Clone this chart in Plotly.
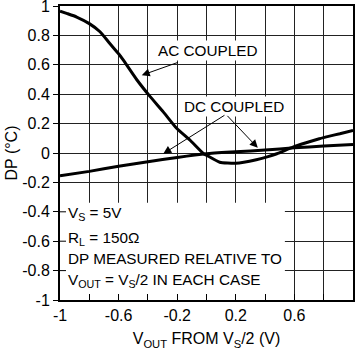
import plotly.graph_objects as go

# ---- data ----
ac_x = [-1.0, -0.95, -0.886, -0.8, -0.727, -0.66, -0.6, -0.57, -0.477, -0.386,
        -0.295, -0.204, -0.11, -0.02, 0.0, 0.09, 0.2, 0.34, 0.42, 0.48, 0.59, 0.68,
        0.77, 0.84, 0.91, 1.0]
ac_y = [0.965, 0.948, 0.925, 0.88, 0.825, 0.745, 0.675, 0.635, 0.5, 0.385,
        0.28, 0.168, 0.085, -0.005, -0.015, -0.063, -0.07, -0.046, -0.025, -0.005,
        0.04, 0.07, 0.097, 0.115, 0.131, 0.154]
dc_x = [-1.0, -0.8, -0.6, -0.4, -0.2, 0.0, 0.2, 0.4, 0.6, 0.8, 1.0]
dc_y = [-0.155, -0.125, -0.09, -0.06, -0.03, -0.005, 0.008, 0.02, 0.035, 0.047, 0.058]

x_ticks = [-1.0, -0.6, -0.2, 0.2, 0.6, 1.0]
x_labels = ["-1", "-0.6", "-0.2", "0.2", "0.6", "1"]
y_ticks = [1.0, 0.8, 0.6, 0.4, 0.2, 0.0, -0.2, -0.4, -0.6, -0.8, -1.0]
y_labels = ["1", "0.8", "0.6", "0.4", "0.2", "0", "-0.2", "-0.4", "-0.6", "-0.8", "-1"]

note_lines = ["V<sub>S</sub> = 5V", "R<sub>L</sub> = 150Ω", "DP MEASURED RELATIVE TO",
              "V<sub>OUT</sub> = V<sub>S</sub>/2 IN EACH CASE"]
note_y = [-0.41, -0.58, -0.72, -0.87]
box_x1, box_y1 = 0.535, -0.338

FONT = "Liberation Sans, Arial, sans-serif"

fig = go.Figure()
fig.add_trace(go.Scatter(x=ac_x, y=ac_y, mode="lines",
                         line=dict(color="black", width=3, shape="spline", smoothing=0.5),
                         showlegend=False, hoverinfo="skip"))
fig.add_trace(go.Scatter(x=dc_x, y=dc_y, mode="lines",
                         line=dict(color="black", width=3, shape="spline", smoothing=0.5),
                         showlegend=False, hoverinfo="skip"))

# white note box hiding the grid
fig.add_shape(type="rect", xref="x", yref="y", x0=-1, x1=box_x1, y0=-1, y1=box_y1,
              fillcolor="white", line=dict(width=0), layer="between")
# inside ticks on the left axis inside the box
for v in y_ticks:
    if -1 < v < box_y1:
        fig.add_shape(type="line", xref="x", yref="y", xsizemode="pixel", xanchor=-1,
                      x0=0, x1=6, y0=v, y1=v, line=dict(color="black", width=1))

for t, yy in zip(note_lines, note_y):
    fig.add_annotation(x=-0.96, y=yy, xref="x", yref="y", text=t, showarrow=False,
                       xanchor="left", yanchor="middle",
                       font=dict(size=15.3, color="black", family=FONT))

# labels with arrows
fig.add_annotation(x=0.007, y=0.70, text="AC COUPLED", showarrow=False,
                   font=dict(size=15.3, color="black", family=FONT), bgcolor="white")
fig.add_annotation(x=0.187, y=0.317, text="DC COUPLED", showarrow=False,
                   font=dict(size=15.3, color="black", family=FONT), bgcolor="white")
arrows = [((-0.185, 0.62), (-0.442, 0.529)),
          ((0.133, 0.263), (-0.295, -0.005)),
          ((0.133, 0.263), (0.35, 0.035))]
for (tx, ty), (hx, hy) in arrows:
    fig.add_annotation(x=hx, y=hy, ax=tx, ay=ty, xref="x", yref="y", axref="x", ayref="y",
                       text="", showarrow=True, arrowhead=2, arrowsize=1.6, arrowwidth=1,
                       arrowcolor="black", standoff=0)

fig.update_xaxes(range=[-1, 1], tickvals=x_ticks, ticktext=x_labels, ticks="inside",
                 ticklen=6, tickwidth=1, tickcolor="black", automargin=False,
                 minor=dict(dtick=0.2, tick0=0, ticks="inside", ticklen=6, tickwidth=1,
                            tickcolor="black", showgrid=True, gridcolor="#222", gridwidth=1),
                 showgrid=True, gridcolor="#222", gridwidth=1, zeroline=False,
                 showline=True, linecolor="black", linewidth=2, mirror=True,
                 tickfont=dict(size=16, color="black", family=FONT),
                 title=dict(text="V<sub>OUT</sub> FROM V<sub>S</sub>/2 (V)", standoff=10,
                            font=dict(size=16, color="black", family=FONT)))
fig.update_yaxes(range=[-1, 1], tickvals=y_ticks, ticktext=y_labels, ticks="outside",
                 ticklen=5, tickwidth=1, tickcolor="black", ticklabeloverflow="allow",
                 automargin=False,
                 showgrid=True, gridcolor="#222", gridwidth=1, zeroline=False,
                 showline=True, linecolor="black", linewidth=2, mirror=True,
                 tickfont=dict(size=16, color="black", family=FONT),
                 title=dict(text="DP (°C)", standoff=1,
                            font=dict(size=16, color="black", family=FONT)))

fig.update_layout(width=355, height=352, margin=dict(l=60, r=2, t=6, b=52),
                  paper_bgcolor="white", plot_bgcolor="white", showlegend=False)

fig.write_html("out.html")
